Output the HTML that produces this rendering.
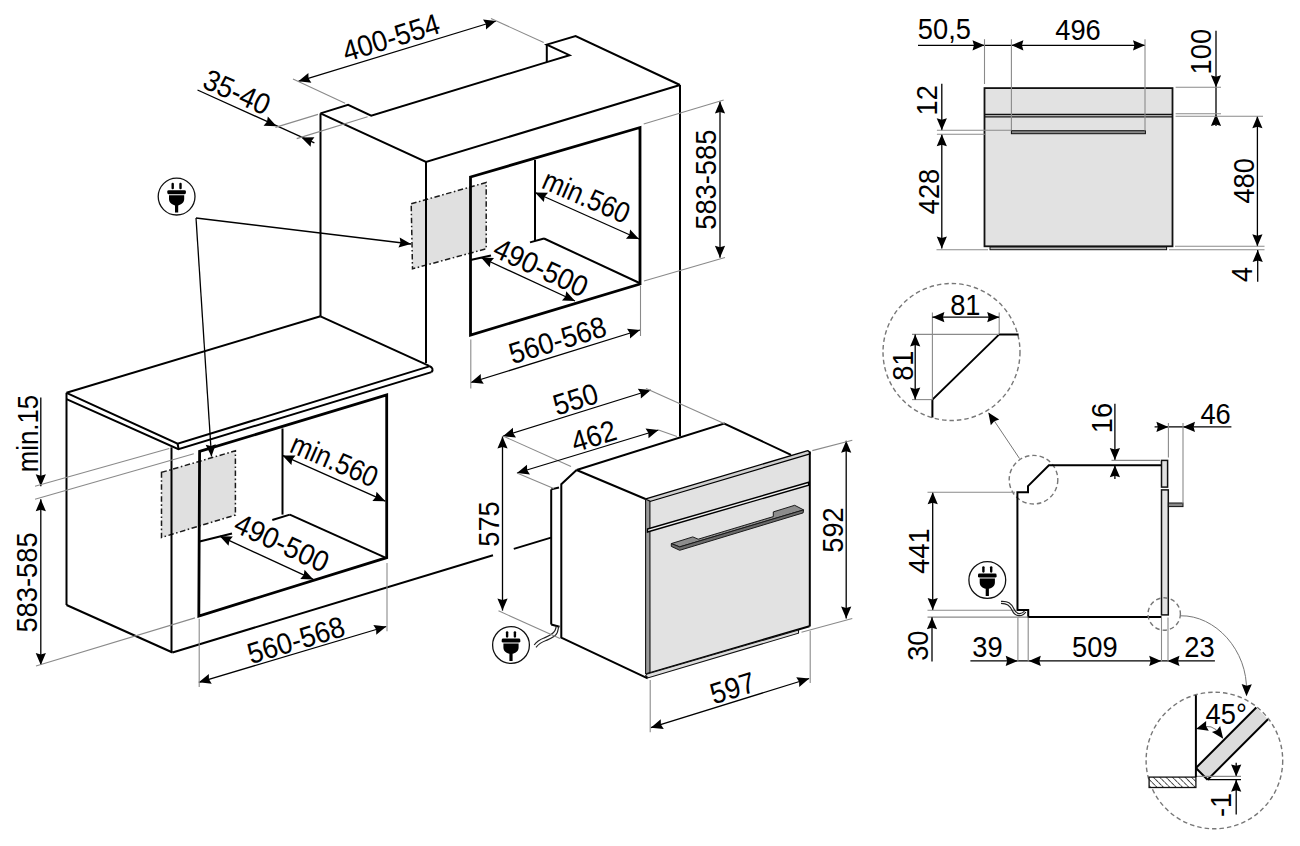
<!DOCTYPE html>
<html><head><meta charset="utf-8"><style>
html,body{margin:0;padding:0;background:#fff;width:1300px;height:846px;overflow:hidden}
svg{display:block}
text{font-family:"Liberation Sans",sans-serif;fill:#000}
.n{fill:none;stroke:#000;stroke-width:2;stroke-linejoin:miter}
.n2{fill:none;stroke:#111;stroke-width:1.3}
.t{fill:none;stroke:#000;stroke-width:2.8;stroke-linejoin:miter}
.d{fill:none;stroke:#000;stroke-width:1.3}
.x{fill:none;stroke:#8a8a8a;stroke-width:1.1}
.g{fill:none;stroke:#777;stroke-width:1}
.cb{fill:none;stroke:#222;stroke-width:1.2}
.ar{fill:#000;stroke:none}
.gp{fill:#e0e0e0;stroke:#1a1a1a;stroke-width:1.5;stroke-dasharray:5.5 2.5 1.6 2.5}
.dc{fill:none;stroke:#777;stroke-width:1.4;stroke-dasharray:4.5 3}
</style></head><body>
<svg width="1300" height="846" viewBox="0 0 1300 846">
<defs><pattern id="hatch" width="4.5" height="4.5" patternUnits="userSpaceOnUse" patternTransform="rotate(-45)"><rect width="4.5" height="4.5" fill="#fff"/><line x1="0" y1="0" x2="0" y2="4" stroke="#222" stroke-width="1.6"/></pattern></defs>
<polygon class="gp" points="411.2,203.8 486.2,182.5 486.2,248.8 412.5,268.8" />
<polygon class="gp" points="161.5,472.4 235.4,450.8 235.4,515 161.5,537.5" />
<polyline class="n" points="320.5,113.4 348.1,104.9 371.2,115.6 546.8,62.1 569.5,55.2 546.8,44.6 575.6,36.1 680,85" />
<line class="n" x1="546.8" y1="62.1" x2="546.8" y2="44.6"/>
<polyline class="n" points="320.5,113.4 426,162 680,85" />
<line class="n" x1="320.5" y1="113.4" x2="320.5" y2="316.3"/>
<line class="n" x1="426" y1="162" x2="426" y2="363"/>
<line class="n" x1="680" y1="85" x2="680" y2="436.5"/>
<polygon class="t" points="470.5,177 640,127.5 640,284 470.5,335" />
<line class="n" x1="535" y1="160" x2="535" y2="241"/>
<line class="n" x1="470.5" y1="260" x2="491" y2="255.5"/>
<line class="n" x1="530" y1="242.4" x2="544" y2="238.5"/>
<line class="n" x1="544" y1="238.5" x2="639.5" y2="283"/>
<line class="n" x1="66.5" y1="392.8" x2="320.5" y2="316.3"/>
<line class="n" x1="320.5" y1="316.3" x2="429.2" y2="365.9"/>
<polyline class="n" points="66.5,392.8 177.6,443.7 429.2,366.4" />
<polyline class="n" points="66.5,399.2 178.4,449.2 431.5,372.1" />
<line class="n" x1="177.6" y1="443.7" x2="178.6" y2="449"/>
<path class="n" d="M429.2,365.9 Q434.5,368.5 431.5,372.1"/>
<line class="n" x1="66.5" y1="392.8" x2="66.5" y2="605"/>
<line class="n" x1="66.5" y1="605" x2="172.5" y2="652.5"/>
<line class="n" x1="171.5" y1="447.3" x2="171.5" y2="652.5"/>
<line class="n" x1="172.5" y1="652.5" x2="493" y2="555.2"/>
<line class="n" x1="513.8" y1="548.9" x2="551" y2="537.6"/>
<polygon class="t" points="199.6,451.4 386.7,394.8 386.7,557.7 198.8,616" />
<line class="n" x1="282.5" y1="428.5" x2="282.5" y2="514.6"/>
<line class="n" x1="199.6" y1="541.5" x2="232" y2="533.5"/>
<line class="n" x1="272.3" y1="520" x2="289.8" y2="514.6"/>
<line class="n" x1="289.8" y1="514.6" x2="385.4" y2="557.7"/>
<g transform="translate(176.6 196.6)"><circle r="18.4" fill="#fff" stroke="#111" stroke-width="1.3"/><rect x="-5.1" y="-13.8" width="2.4" height="6.5" rx="1.1"/><rect x="2.7" y="-13.8" width="2.4" height="6.5" rx="1.1"/><rect x="-9.3" y="-6.4" width="18.6" height="4" rx="1.4"/><path d="M-7.6,-1.4 H7.6 V2.5 C7.6,6 4.5,8.3 1.6,8.8 V16 H-1.6 V8.8 C-4.5,8.3 -7.6,6 -7.6,2.5 Z"/></g>
<line class="d" x1="196" y1="218" x2="411" y2="244"/>
<polygon class="ar" points="411,244 398.47,247.62 400.52,242.73 399.7,237.5"/>
<line class="d" x1="196" y1="218" x2="211.5" y2="456.5"/>
<polygon class="ar" points="211.5,456.5 205.63,444.86 210.82,445.96 215.81,444.19"/>
<line class="d" x1="298.4" y1="81.3" x2="496" y2="21"/>
<polygon class="ar" points="298.4,81.3 308.39,72.92 308.5,78.22 311.37,82.68"/>
<polygon class="ar" points="496,21 486.01,29.38 485.9,24.08 483.03,19.62"/>
<line class="x" x1="293" y1="79" x2="345.1" y2="103.2"/>
<line class="x" x1="491" y1="18.5" x2="543.7" y2="42.5"/>
<text x="0" y="0" font-size="29.5" text-anchor="middle" transform="translate(394 47.32) rotate(-17) scale(0.925 1)">400-554</text>
<line class="d" x1="197.5" y1="90" x2="314.4" y2="142.8"/>
<polygon class="ar" points="276.6,126.2 263.57,125.84 267,121.81 267.81,116.57"/>
<polygon class="ar" points="301.4,137.5 314.44,137.31 311.18,141.49 310.59,146.75"/>
<line class="x" x1="275.4" y1="127.4" x2="318" y2="114.4"/>
<line class="x" x1="296.7" y1="138.6" x2="367.6" y2="116.8"/>
<text x="0" y="0" font-size="29.5" text-anchor="middle" transform="translate(232.78 101.36) rotate(24.3) scale(0.925 1)">35-40</text>
<line class="d" x1="720" y1="101.5" x2="720" y2="257.7"/>
<polygon class="ar" points="720,101.5 725.1,113.5 720,112.06 714.9,113.5"/>
<polygon class="ar" points="720,257.7 714.9,245.7 720,247.14 725.1,245.7"/>
<line class="x" x1="643.7" y1="124" x2="723.7" y2="100"/>
<line class="x" x1="644" y1="281" x2="725" y2="257.5"/>
<text x="0" y="0" font-size="29.5" text-anchor="middle" transform="translate(715.77 179.7) rotate(-90) scale(0.925 1)">583-585</text>
<line class="d" x1="535" y1="192.5" x2="639" y2="239"/>
<polygon class="ar" points="535,192.5 548.04,192.74 544.64,196.81 543.87,202.05"/>
<polygon class="ar" points="639,239 625.96,238.76 629.36,234.69 630.13,229.45"/>
<text x="0" y="0" font-size="29.5" text-anchor="middle" transform="translate(582.41 205.91) rotate(23.5) scale(0.875 1)">min.560</text>
<line class="d" x1="481" y1="257.5" x2="575" y2="301"/>
<polygon class="ar" points="481,257.5 494.03,257.91 490.58,261.93 489.75,267.17"/>
<polygon class="ar" points="575,301 561.97,300.59 565.42,296.57 566.25,291.33"/>
<text x="0" y="0" font-size="29.5" text-anchor="middle" transform="translate(536.69 276.82) rotate(24.8) scale(0.925 1)">490-500</text>
<line class="d" x1="470.8" y1="382.5" x2="640" y2="330"/>
<polygon class="ar" points="470.8,382.5 480.75,374.07 480.89,379.37 483.77,383.81"/>
<polygon class="ar" points="640,330 630.05,338.43 629.91,333.13 627.03,328.69"/>
<line class="x" x1="470.8" y1="339.5" x2="470.8" y2="388.6"/>
<line class="x" x1="640.5" y1="286" x2="640.5" y2="336"/>
<text x="0" y="0" font-size="29.5" text-anchor="middle" transform="translate(560.45 349.83) rotate(-16.7) scale(0.925 1)">560-568</text>
<line class="d" x1="40.8" y1="397.5" x2="40.8" y2="486.2"/>
<polygon class="ar" points="40.8,486.2 35.7,474.2 40.8,475.64 45.9,474.2"/>
<line class="d" x1="40.8" y1="499.2" x2="40.8" y2="665"/>
<polygon class="ar" points="40.8,499.2 45.9,511.2 40.8,509.76 35.7,511.2"/>
<polygon class="ar" points="40.8,665 35.7,653 40.8,654.44 45.9,653"/>
<line class="x" x1="35" y1="486.2" x2="169.2" y2="448.5"/>
<line class="x" x1="35" y1="499.2" x2="193.8" y2="453.8"/>
<line class="x" x1="36" y1="666" x2="195" y2="617.9"/>
<text x="0" y="0" font-size="29.5" text-anchor="middle" transform="translate(37.77 433.5) rotate(-90) scale(0.875 1)">min.15</text>
<text x="0" y="0" font-size="29.5" text-anchor="middle" transform="translate(37.27 582.5) rotate(-90) scale(0.925 1)">583-585</text>
<line class="d" x1="282.5" y1="455.4" x2="385.4" y2="501.2"/>
<polygon class="ar" points="282.5,455.4 295.54,455.62 292.15,459.69 291.39,464.94"/>
<polygon class="ar" points="385.4,501.2 372.36,500.98 375.75,496.91 376.51,491.66"/>
<text x="0" y="0" font-size="29.5" text-anchor="middle" transform="translate(330.41 469.71) rotate(23.5) scale(0.875 1)">min.560</text>
<line class="d" x1="219.8" y1="536.2" x2="313.3" y2="579.4"/>
<polygon class="ar" points="219.8,536.2 232.83,536.6 229.39,540.63 228.55,545.86"/>
<polygon class="ar" points="313.3,579.4 300.27,579 303.71,574.97 304.55,569.74"/>
<text x="0" y="0" font-size="29.5" text-anchor="middle" transform="translate(277.49 552.12) rotate(24.8) scale(0.925 1)">490-500</text>
<line class="d" x1="198.8" y1="682.3" x2="386.3" y2="626.5"/>
<polygon class="ar" points="198.8,682.3 208.85,673.99 208.92,679.29 211.76,683.77"/>
<polygon class="ar" points="386.3,626.5 376.25,634.81 376.18,629.51 373.34,625.03"/>
<line class="x" x1="199.2" y1="618.8" x2="199.2" y2="687"/>
<line class="x" x1="387" y1="563" x2="387" y2="631.3"/>
<text x="0" y="0" font-size="29.5" text-anchor="middle" transform="translate(298.95 649.83) rotate(-16.7) scale(0.925 1)">560-568</text>
<polyline class="n" points="551.2,489.4 559,487.5" />
<line class="n" x1="551.2" y1="489.4" x2="551.2" y2="624.5"/>
<line class="n" x1="551.2" y1="624.5" x2="559.5" y2="626.7"/>
<polyline class="n" points="576.6,470 561.3,484.2 561.3,637.6 647.7,678.4" />
<polyline class="n" points="576.6,470 724.2,423.6 791,454.8" />
<line class="n" x1="576.6" y1="470" x2="645.5" y2="499"/>
<polygon fill="#e2e2e2" stroke="none" points="646.5,499.6 809.2,451.5 809.2,626.2 647.7,675.8"/>
<polygon fill="#cfcfcf" stroke="#000" stroke-width="1.3" stroke-linejoin="round" points="645.8,498.9 807.8,450.6 810,452.5 810,453.9 649.9,501.5 645.8,501.5"/>
<polygon fill="#9a9a9a" stroke="#111" stroke-width="1.1" points="645.6,498.9 649.9,501.2 650,674.8 645.6,673.6"/>
<line class="n" x1="809.8" y1="451.5" x2="809.8" y2="626.5"/>
<polygon fill="#f0f0f0" stroke="#000" stroke-width="1.4" points="647.5,529 808.7,482.3 808.7,485.1 647.5,532"/>
<polyline class="n" points="646.9,674 809.5,626.2" />
<polygon fill="#dcdcdc" stroke="#111" stroke-width="1.1" points="647,674 798.5,630 798.5,633.2 648.5,677.7 645.5,676"/>
<polygon fill="#8c8c8c" stroke="#1a1a1a" stroke-width="1" stroke-linejoin="round" points="671.3,543.6 692.8,536.9 698.2,539.2 773.3,516.6 773.3,511.9 794.7,505.3 803.6,509.9 679.7,546.9"/>
<polygon fill="#6a6a6a" stroke="#1a1a1a" stroke-width="1" stroke-linejoin="round" points="671.3,543.6 679.7,546.9 803.6,509.9 803.1,512.9 679.7,550.3 671.3,546.4"/>
<g transform="translate(511 645)"><circle r="18.4" fill="#fff" stroke="#111" stroke-width="1.3"/><rect x="-5.1" y="-13.8" width="2.4" height="6.5" rx="1.1"/><rect x="2.7" y="-13.8" width="2.4" height="6.5" rx="1.1"/><rect x="-9.3" y="-6.4" width="18.6" height="4" rx="1.4"/><path d="M-7.6,-1.4 H7.6 V2.5 C7.6,6 4.5,8.3 1.6,8.8 V16 H-1.6 V8.8 C-4.5,8.3 -7.6,6 -7.6,2.5 Z"/></g>
<path class="cb" d="M534.2,645 C537,641 540,639.5 544,638 C549,636 553,634.5 555,630.5 C556,628.5 556.2,627 556.3,625.6"/>
<path class="cb" d="M536,647.3 C539,643.5 542,642 546,640.5 C551,638.5 555.5,637 557.3,632.5 C558.2,630 558.5,628 558.6,626.3"/>
<line class="d" x1="503" y1="436.2" x2="650.8" y2="390"/>
<polygon class="ar" points="503,436.2 512.93,427.75 513.08,433.05 515.98,437.49"/>
<polygon class="ar" points="650.8,390 640.87,398.45 640.72,393.15 637.82,388.71"/>
<line class="x" x1="646" y1="388.5" x2="724.6" y2="423.8"/>
<line class="x" x1="503" y1="436" x2="571" y2="466.5"/>
<text x="0" y="0" font-size="29.5" text-anchor="middle" transform="translate(578.4 409.02) rotate(-17) scale(0.925 1)">550</text>
<line class="d" x1="517" y1="473" x2="658.5" y2="430"/>
<polygon class="ar" points="517,473 527,464.63 527.1,469.93 529.96,474.39"/>
<polygon class="ar" points="658.5,430 648.5,438.37 648.4,433.07 645.54,428.61"/>
<line class="x" x1="658.5" y1="430" x2="677" y2="436.5"/>
<line class="x" x1="517" y1="473" x2="553.8" y2="488.5"/>
<text x="0" y="0" font-size="29.5" text-anchor="middle" transform="translate(596.8 445.82) rotate(-17) scale(0.925 1)">462</text>
<line class="d" x1="502.5" y1="436.5" x2="502.5" y2="610.6"/>
<polygon class="ar" points="502.5,436.5 507.6,448.5 502.5,447.06 497.4,448.5"/>
<polygon class="ar" points="502.5,610.6 497.4,598.6 502.5,600.04 507.6,598.6"/>
<line class="x" x1="498.5" y1="610.8" x2="560" y2="638.5"/>
<text x="0" y="0" font-size="29.5" text-anchor="middle" transform="translate(499.27 524) rotate(-90) scale(0.925 1)">575</text>
<line class="d" x1="846.2" y1="440.8" x2="846.2" y2="618.5"/>
<polygon class="ar" points="846.2,440.8 851.3,452.8 846.2,451.36 841.1,452.8"/>
<polygon class="ar" points="846.2,618.5 841.1,606.5 846.2,607.94 851.3,606.5"/>
<line class="x" x1="812.3" y1="450.6" x2="852.3" y2="440.2"/>
<line class="x" x1="801.5" y1="632.3" x2="852.3" y2="618.5"/>
<text x="0" y="0" font-size="29.5" text-anchor="middle" transform="translate(842.57 530) rotate(-90) scale(0.925 1)">592</text>
<line class="d" x1="650.8" y1="727.7" x2="809.2" y2="678.5"/>
<polygon class="ar" points="650.8,727.7 660.75,719.27 660.88,724.57 663.77,729.01"/>
<polygon class="ar" points="809.2,678.5 799.25,686.93 799.12,681.63 796.23,677.19"/>
<line class="x" x1="650.2" y1="680" x2="650.2" y2="732.3"/>
<line class="x" x1="810.2" y1="630.8" x2="810.2" y2="683"/>
<text x="0" y="0" font-size="29.5" text-anchor="middle" transform="translate(735.5 697.82) rotate(-17) scale(0.925 1)">597</text>
<rect x="984.5" y="88.1" width="188" height="158.2" fill="#e2e2e2" stroke="#111" stroke-width="1.8"/>
<line class="n2" x1="984.5" y1="114.5" x2="1172.5" y2="114.5"/>
<line class="n2" x1="984.5" y1="116.8" x2="1172.5" y2="116.8"/>
<rect x="1011.4" y="130.7" width="134" height="3" fill="#888" stroke="#111" stroke-width="1"/>
<rect x="990" y="247" width="176.6" height="2.7" fill="#bbb" stroke="#111" stroke-width="1"/>
<line class="d" x1="918" y1="45.3" x2="1145" y2="45.3"/>
<polygon class="ar" points="984.5,45.3 972.5,50.4 973.94,45.3 972.5,40.2"/>
<polygon class="ar" points="1011.4,45.3 1023.4,40.2 1021.96,45.3 1023.4,50.4"/>
<polygon class="ar" points="1145,45.3 1133,50.4 1134.44,45.3 1133,40.2"/>
<line class="x" x1="984.5" y1="39.2" x2="984.5" y2="84"/>
<line class="x" x1="1011.4" y1="39.2" x2="1011.4" y2="130"/>
<line class="x" x1="1145" y1="39.2" x2="1145" y2="130.5"/>
<text x="0" y="0" font-size="29.5" text-anchor="middle" transform="translate(944.4 39.07) rotate(0) scale(0.925 1)">50,5</text>
<text x="0" y="0" font-size="29.5" text-anchor="middle" transform="translate(1078 39.97) rotate(0) scale(0.925 1)">496</text>
<line class="d" x1="1216" y1="30.7" x2="1216" y2="126"/>
<polygon class="ar" points="1216,87.2 1210.9,75.2 1216,76.64 1221.1,75.2"/>
<polygon class="ar" points="1216,114 1221.1,126 1216,124.56 1210.9,126"/>
<line class="x" x1="1175.6" y1="87.2" x2="1221" y2="87.2"/>
<line class="x" x1="1175.6" y1="113.7" x2="1221" y2="113.7"/>
<text x="0" y="0" font-size="29.5" text-anchor="middle" transform="translate(1210.57 51.7) rotate(-90) scale(0.925 1)">100</text>
<line class="d" x1="941.8" y1="83.8" x2="941.8" y2="130.2"/>
<polygon class="ar" points="941.8,130.2 936.7,118.2 941.8,119.64 946.9,118.2"/>
<line class="d" x1="941.8" y1="134.2" x2="941.8" y2="248.5"/>
<polygon class="ar" points="941.8,134.2 946.9,146.2 941.8,144.76 936.7,146.2"/>
<polygon class="ar" points="941.8,248.5 936.7,236.5 941.8,237.94 946.9,236.5"/>
<line class="x" x1="936.9" y1="130.2" x2="1011.4" y2="130.2"/>
<line class="x" x1="936.9" y1="134.2" x2="985" y2="134.2"/>
<line class="x" x1="936.5" y1="249.8" x2="988" y2="249.8"/>
<text x="0" y="0" font-size="29.5" text-anchor="middle" transform="translate(936.77 100.3) rotate(-90) scale(0.925 1)">12</text>
<text x="0" y="0" font-size="29.5" text-anchor="middle" transform="translate(938.77 191.5) rotate(-90) scale(0.925 1)">428</text>
<line class="d" x1="1257.4" y1="116.3" x2="1257.4" y2="246.2"/>
<polygon class="ar" points="1257.4,116.3 1262.5,128.3 1257.4,126.86 1252.3,128.3"/>
<polygon class="ar" points="1257.4,246.2 1252.3,234.2 1257.4,235.64 1262.5,234.2"/>
<line class="x" x1="1175.6" y1="116.3" x2="1263" y2="116.3"/>
<line class="x" x1="1175" y1="246.2" x2="1264.5" y2="246.2"/>
<line class="x" x1="1169" y1="249.8" x2="1264.5" y2="249.8"/>
<line class="d" x1="1257.7" y1="250" x2="1257.7" y2="281.7"/>
<polygon class="ar" points="1257.7,250 1262.8,262 1257.7,260.56 1252.6,262"/>
<text x="0" y="0" font-size="29.5" text-anchor="middle" transform="translate(1253.77 180.8) rotate(-90) scale(0.925 1)">480</text>
<text x="0" y="0" font-size="29.5" text-anchor="middle" transform="translate(1251.87 274.3) rotate(-90) scale(0.925 1)">4</text>
<circle class="dc" cx="951.5" cy="352" r="68.5"/>
<polyline class="n" points="1018.6,334.4 999.2,334.4 932.4,399.6 932.4,417.4" />
<line class="x" x1="932.4" y1="312.4" x2="932.4" y2="399.6"/>
<line class="x" x1="999.2" y1="312.4" x2="999.2" y2="333.4"/>
<line class="x" x1="912" y1="334.4" x2="999" y2="334.4"/>
<line class="x" x1="912" y1="399.6" x2="932.4" y2="399.6"/>
<line class="d" x1="932.4" y1="317.2" x2="999.2" y2="317.2"/>
<polygon class="ar" points="932.4,317.2 944.4,312.1 942.96,317.2 944.4,322.3"/>
<polygon class="ar" points="999.2,317.2 987.2,322.3 988.64,317.2 987.2,312.1"/>
<text x="0" y="0" font-size="29.5" text-anchor="middle" transform="translate(965.3 315.07) rotate(0) scale(0.925 1)">81</text>
<line class="d" x1="915.2" y1="334.4" x2="915.2" y2="399.6"/>
<polygon class="ar" points="915.2,334.4 920.3,346.4 915.2,344.96 910.1,346.4"/>
<polygon class="ar" points="915.2,399.6 910.1,387.6 915.2,389.04 920.3,387.6"/>
<text x="0" y="0" font-size="29.5" text-anchor="middle" transform="translate(912.57 365.7) rotate(-90) scale(0.925 1)">81</text>
<line class="g" x1="1019.5" y1="458.5" x2="989" y2="413"/>
<polygon class="ar" points="988.3,412.5 999.26,419.57 994.23,421.24 990.82,425.29"/>
<circle class="dc" cx="1033.5" cy="479.7" r="24.3"/>
<polyline class="n" points="1161.5,465.2 1048.9,465.2 1028,486.1 1028,492.2 1017.4,492.2 1017.5,610 1028.2,610 1028.2,616.9 1161.5,616.9" />
<rect x="1161.5" y="460.4" width="6.1" height="26.7" fill="#e2e2e2" stroke="#111" stroke-width="1.5"/>
<rect x="1161.5" y="489.9" width="6.8" height="125" fill="#e2e2e2" stroke="#111" stroke-width="1.5"/>
<rect x="1168.4" y="503" width="14.6" height="3.6" fill="#888" stroke="#111" stroke-width="1"/>
<line class="d" x1="1114.9" y1="403.8" x2="1114.9" y2="460"/>
<polygon class="ar" points="1114.9,460 1109.8,448 1114.9,449.44 1120,448"/>
<line class="d" x1="1114.9" y1="465.3" x2="1114.9" y2="479.1"/>
<polygon class="ar" points="1114.9,465.3 1120,477.3 1114.9,475.86 1109.8,477.3"/>
<line class="x" x1="1111.5" y1="460.4" x2="1160" y2="460.4"/>
<text x="0" y="0" font-size="29.5" text-anchor="middle" transform="translate(1111.77 418) rotate(-90) scale(0.925 1)">16</text>
<line class="d" x1="1154.6" y1="426.9" x2="1231.4" y2="426.9"/>
<polygon class="ar" points="1168.4,426.9 1156.4,432 1157.84,426.9 1156.4,421.8"/>
<polygon class="ar" points="1183,426.9 1195,421.8 1193.56,426.9 1195,432"/>
<line class="x" x1="1168.4" y1="423" x2="1168.4" y2="457.6"/>
<line class="x" x1="1183" y1="423" x2="1183" y2="503.7"/>
<text x="0" y="0" font-size="29.5" text-anchor="middle" transform="translate(1215.6 423.67) rotate(0) scale(0.925 1)">46</text>
<line class="d" x1="932.7" y1="492.3" x2="932.7" y2="610"/>
<polygon class="ar" points="932.7,492.3 937.8,504.3 932.7,502.86 927.6,504.3"/>
<polygon class="ar" points="932.7,610 927.6,598 932.7,599.44 937.8,598"/>
<line class="x" x1="927.5" y1="492.3" x2="1015" y2="492.3"/>
<line class="x" x1="927.5" y1="610.3" x2="1017" y2="610.3"/>
<line class="x" x1="927.5" y1="617.1" x2="1028" y2="617.1"/>
<line class="d" x1="932" y1="617.3" x2="932" y2="661.5"/>
<polygon class="ar" points="932,617.3 937.1,629.3 932,627.86 926.9,629.3"/>
<text x="0" y="0" font-size="29.5" text-anchor="middle" transform="translate(928.57 551) rotate(-90) scale(0.925 1)">441</text>
<text x="0" y="0" font-size="29.5" text-anchor="middle" transform="translate(928.07 645.7) rotate(-90) scale(0.925 1)">30</text>
<g transform="translate(987.3 580)"><circle r="18.4" fill="#fff" stroke="#111" stroke-width="1.3"/><rect x="-5.1" y="-13.8" width="2.4" height="6.5" rx="1.1"/><rect x="2.7" y="-13.8" width="2.4" height="6.5" rx="1.1"/><rect x="-9.3" y="-6.4" width="18.6" height="4" rx="1.4"/><path d="M-7.6,-1.4 H7.6 V2.5 C7.6,6 4.5,8.3 1.6,8.8 V16 H-1.6 V8.8 C-4.5,8.3 -7.6,6 -7.6,2.5 Z"/></g>
<path class="cb" d="M1001,601.4 C1008,601 1011,603 1014,609 C1016,614 1021,615.5 1024.5,611"/>
<path class="cb" d="M1001,603.4 C1007,603.5 1009.5,605 1012.5,611 C1015,616.5 1022,617.5 1025.8,612"/>
<line class="d" x1="970.4" y1="660.9" x2="1214.9" y2="660.9"/>
<polygon class="ar" points="1017.7,660.9 1005.7,666 1007.14,660.9 1005.7,655.8"/>
<polygon class="ar" points="1028.8,660.9 1040.8,655.8 1039.36,660.9 1040.8,666"/>
<polygon class="ar" points="1161.2,660.9 1149.2,666 1150.64,660.9 1149.2,655.8"/>
<polygon class="ar" points="1167.5,660.9 1179.5,655.8 1178.06,660.9 1179.5,666"/>
<line class="x" x1="1017.9" y1="617.5" x2="1017.9" y2="662"/>
<line class="x" x1="1028.2" y1="617.5" x2="1028.2" y2="662"/>
<line class="x" x1="1161.5" y1="617.5" x2="1161.5" y2="662"/>
<line class="x" x1="1168" y1="617.5" x2="1168" y2="662"/>
<text x="0" y="0" font-size="29.5" text-anchor="middle" transform="translate(987.5 656.77) rotate(0) scale(0.925 1)">39</text>
<text x="0" y="0" font-size="29.5" text-anchor="middle" transform="translate(1094.8 656.77) rotate(0) scale(0.925 1)">509</text>
<text x="0" y="0" font-size="29.5" text-anchor="middle" transform="translate(1199.5 656.77) rotate(0) scale(0.925 1)">23</text>
<circle class="dc" cx="1164.2" cy="614" r="16.2"/>
<path class="g" fill="none" d="M1180.5,615.8 C1215,615 1248,650 1246.5,692"/>
<polygon class="ar" points="1246.5,696.2 1241.62,684.11 1246.7,685.64 1251.82,684.3"/>
<circle class="dc" cx="1214.4" cy="760.5" r="68.3"/>
<rect x="1149.1" y="777.1" width="46.8" height="10.4" fill="url(#hatch)" stroke="#111" stroke-width="1.3"/>
<line class="n" x1="1195.9" y1="695.2" x2="1195.9" y2="777.1"/>
<polygon fill="#dcdcdc" stroke="none" points="1195.9,768 1256.3,707.5 1268,719.2 1207.6,779.7"/>
<line class="n" x1="1195.9" y1="768" x2="1256.3" y2="707.5"/>
<line class="n" x1="1207.6" y1="779.7" x2="1268" y2="719.2"/>
<line class="n" x1="1195.9" y1="768" x2="1207.6" y2="779.7"/>
<path class="g" fill="none" d="M1199,728.5 Q1212,722 1221,735"/>
<polygon class="ar" points="1195.9,729 1206.15,720.95 1206.09,726.24 1208.81,730.79"/>
<polygon class="ar" points="1223.2,738.7 1211.95,732.1 1216.91,730.22 1220.14,726.02"/>
<text x="0" y="0" font-size="29.5" text-anchor="middle" transform="translate(1226.2 723.67) rotate(0) scale(0.925 1)">45°</text>
<line class="d" x1="1236.2" y1="762.8" x2="1236.2" y2="776.4"/>
<polygon class="ar" points="1236.2,776.4 1231.1,764.4 1236.2,765.84 1241.3,764.4"/>
<line class="d" x1="1236.2" y1="779.7" x2="1236.2" y2="814.5"/>
<polygon class="ar" points="1236.2,779.7 1241.3,791.7 1236.2,790.26 1231.1,791.7"/>
<line class="x" x1="1197" y1="776.4" x2="1241" y2="776.4"/>
<line class="d" x1="1207.6" y1="779.7" x2="1241" y2="779.7"/>
<text x="0" y="0" font-size="29.5" text-anchor="middle" transform="translate(1231.27 805) rotate(-90) scale(0.925 1)">-1</text>
</svg></body></html>
